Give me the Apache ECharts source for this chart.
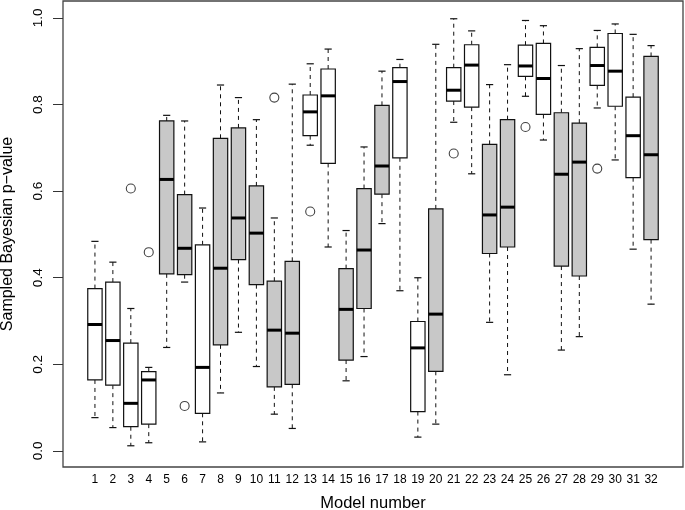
<!DOCTYPE html>
<html>
<head>
<meta charset="utf-8">
<script src="https://cdn.jsdelivr.net/npm/echarts@6/dist/echarts.min.js"></script>
<style>html,body{margin:0;padding:0;background:#fff;}#c{width:685px;height:510px;}</style>
</head>
<body>
<div id="c"></div>
<script>
const models = [1,2,3,4,5,6,7,8,9,10,11,12,13,14,15,16,17,18,19,20,21,22,23,24,25,26,27,28,29,30,31,32];
const lowerWhisker = [0.077,0.054,0.012,0.019,0.239,0.390,0.021,0.134,0.274,0.195,0.085,0.052,0.706,0.471,0.162,0.218,0.525,0.370,0.032,0.062,0.759,0.640,0.297,0.176,0.819,0.718,0.233,0.264,0.792,0.672,0.466,0.339];
const q1 = [0.164,0.152,0.056,0.062,0.409,0.407,0.087,0.245,0.442,0.384,0.148,0.154,0.728,0.664,0.210,0.329,0.593,0.677,0.091,0.184,0.808,0.794,0.456,0.471,0.865,0.777,0.427,0.404,0.844,0.796,0.631,0.488];
const median = [0.292,0.255,0.110,0.164,0.627,0.468,0.193,0.422,0.538,0.503,0.279,0.272,0.783,0.820,0.327,0.464,0.658,0.853,0.238,0.316,0.833,0.891,0.545,0.563,0.889,0.860,0.639,0.667,0.890,0.877,0.728,0.684];
const q3 = [0.375,0.390,0.249,0.183,0.762,0.592,0.476,0.722,0.746,0.612,0.392,0.438,0.822,0.882,0.421,0.606,0.798,0.885,0.299,0.559,0.885,0.938,0.708,0.765,0.937,0.941,0.781,0.757,0.932,0.964,0.817,0.911];
const upperWhisker = [0.484,0.436,0.329,0.193,0.775,0.762,0.561,0.845,0.816,0.765,0.538,0.847,0.894,0.928,0.509,0.702,0.877,0.904,0.400,0.939,0.998,0.970,0.846,0.892,0.994,0.982,0.890,0.929,0.971,0.986,0.962,0.936];
// 0 = white box, 1 = grey box
const boxShade = [0,0,0,0,1,1,0,1,1,1,1,1,0,0,1,1,1,0,0,1,0,0,1,1,0,0,1,1,0,0,0,1];
const outliers = [[3,0.606],[4,0.459],[6,0.104],[11,0.816],[13,0.553],[21,0.687],[25,0.748],[29,0.652]];
const yTicks = [0,0.2,0.4,0.6,0.8,1.0];

const boxData = models.map((m,i)=>[m, lowerWhisker[i], q1[i], median[i], q3[i], upperWhisker[i], boxShade[i]]);

const FONT = '"Liberation Sans", Arial, sans-serif';
const chart = echarts.init(document.getElementById('c'), null, {renderer:'canvas'});
chart.setOption({
  animation:false,
  backgroundColor:'#fff',
  grid:{left:63, right:2, top:1, bottom:43, containLabel:false, outerBoundsMode:'none', show:true, borderColor:'#444', borderWidth:1.3, backgroundColor:'transparent'},
  xAxis:{
    type:'value', min:-0.78, max:33.78, position:'bottom',
    name:'Model number', nameLocation:'middle', nameGap:28,
    nameTextStyle:{fontFamily:FONT, fontSize:16.5, color:'#000'},
    axisLine:{show:false, onZero:false}, axisTick:{show:false}, splitLine:{show:false},
    axisLabel:{customValues:models, fontFamily:FONT, fontSize:12, color:'#000', margin:7, formatter:v=>String(Math.round(v))}
  },
  yAxis:{
    type:'value', min:-0.037, max:1.039, position:'left',
    name:'Sampled Bayesian p\u2212value', nameLocation:'middle', nameGap:47, nameRotate:90,
    nameTextStyle:{fontFamily:FONT, fontSize:16, color:'#000'},
    axisLine:{show:false, onZero:false}, splitLine:{show:false},
    axisTick:{show:true, inside:false, customValues:yTicks, length:10, lineStyle:{color:'#333', width:1}},
    axisLabel:{customValues:yTicks, rotate:90, fontFamily:FONT, fontSize:13.5, color:'#000', margin:18, formatter:v=>v.toFixed(1)}
  },
  series:[
    {
      type:'custom',
      data:boxData,
      renderItem:function(params, api){
        const x = api.value(0);
        const lo = api.coord([x, api.value(1)]);
        const b1 = api.coord([x, api.value(2)]);
        const md = api.coord([x, api.value(3)]);
        const b3 = api.coord([x, api.value(4)]);
        const hi = api.coord([x, api.value(5)]);
        const hw = api.size([0.4,0])[0];
        const cw = api.size([0.2,0])[0];
        const cx = lo[0];
        const fill = api.value(6) ? '#c8c8c8' : '#ffffff';
        const dash = {stroke:'#111', lineWidth:1, lineDash:[4,4]};
        const solid = {stroke:'#111', lineWidth:1.2};
        return {type:'group', children:[
          {type:'line', shape:{x1:cx, y1:b3[1], x2:cx, y2:hi[1]}, style:dash},
          {type:'line', shape:{x1:cx, y1:b1[1], x2:cx, y2:lo[1]}, style:dash},
          {type:'line', shape:{x1:cx-cw, y1:hi[1], x2:cx+cw, y2:hi[1]}, style:solid},
          {type:'line', shape:{x1:cx-cw, y1:lo[1], x2:cx+cw, y2:lo[1]}, style:solid},
          {type:'rect', shape:{x:cx-hw, y:b3[1], width:2*hw, height:b1[1]-b3[1]}, style:{fill:fill, stroke:'#111', lineWidth:1.2}},
          {type:'line', shape:{x1:cx-hw, y1:md[1], x2:cx+hw, y2:md[1]}, style:{stroke:'#000', lineWidth:3}}
        ]};
      }
    },
    {
      type:'scatter',
      data:outliers,
      symbol:'circle', symbolSize:9,
      itemStyle:{color:'#fff', borderColor:'#111', borderWidth:1.1}
    }
  ]
});
</script>
</body>
</html>
